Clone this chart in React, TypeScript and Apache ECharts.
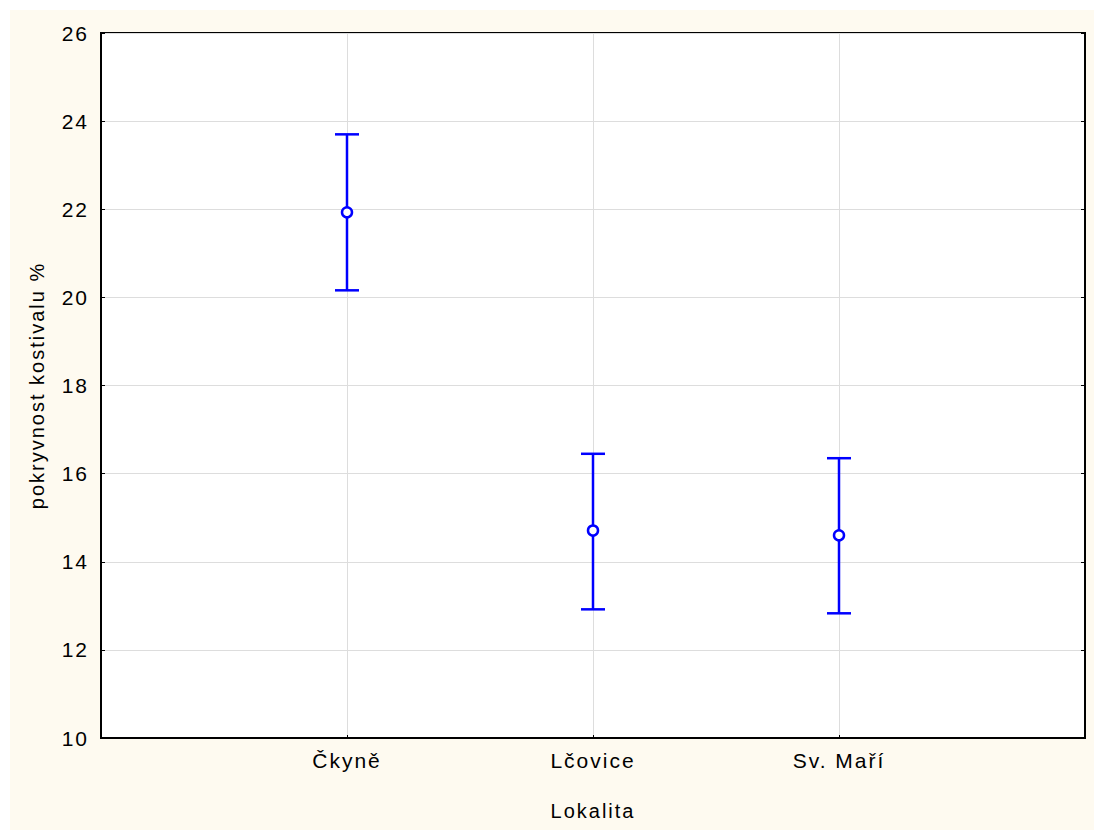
import React, { useEffect, useRef } from "react";
import * as echarts from "echarts";

const categories = ["Čkyně", "Lčovice", "Sv. Maří"];
const means = [21.93, 14.71, 14.6];
const lowers = [20.16, 12.92, 12.83];
const uppers = [23.7, 16.45, 16.35];
const yTicks = { min: 10, max: 26, interval: 2 };

const BLUE = "#0000FF";

export default function App() {
  const ref = useRef<HTMLDivElement>(null);
  useEffect(() => {
    if (!ref.current) return;
    const chart = echarts.init(ref.current, undefined, { renderer: "svg" });
    const font = "'Liberation Sans', Arial, sans-serif";
    const barData = categories.map((_, i) => [i + 1, lowers[i], uppers[i]]);
    const meanData = categories.map((_, i) => [i + 1, means[i]]);
    chart.setOption({
      animation: false,
      backgroundColor: "#FEFAF0",
      textStyle: { fontFamily: font },
      grid: {
        left: 91,
        top: 23,
        right: 9,
        bottom: 92,
        show: true,
        backgroundColor: "#fff",
        borderColor: "#000",
        borderWidth: 2,
      },
      xAxis: {
        type: "value",
        min: 0,
        max: 4,
        interval: 1,
        name: "Lokalita",
        nameLocation: "middle",
        nameGap: 63,
        nameTextStyle: { fontSize: 20, color: "#000", fontFamily: font },
        axisLine: { show: true, lineStyle: { color: "#000", width: 2 } },
        axisTick: { show: true, inside: true, length: 3, lineStyle: { color: "#000" } },
        axisLabel: {
          fontSize: 21,
          color: "#000",
          margin: 12,
          fontFamily: font,
          formatter: (v: number) => (v >= 1 && v <= categories.length && Number.isInteger(v) ? categories[v - 1] : ""),
        },
        splitLine: { show: true, lineStyle: { color: "#dddddd", width: 1 } },
      },
      yAxis: [
        {
          type: "value",
          min: yTicks.min,
          max: yTicks.max,
          interval: yTicks.interval,
          name: "pokryvnost kostivalu %",
          nameLocation: "middle",
          nameGap: 54,
          nameTextStyle: { fontSize: 20, color: "#000", fontFamily: font },
          axisLine: { show: true, lineStyle: { color: "#000", width: 2 } },
          axisTick: { show: true, inside: true, length: 4, lineStyle: { color: "#000" } },
          axisLabel: { fontSize: 21, color: "#000", margin: 12, fontFamily: font },
          splitLine: { show: true, lineStyle: { color: "#dddddd", width: 1 } },
        },
        {
          type: "value",
          position: "right",
          min: yTicks.min,
          max: yTicks.max,
          interval: yTicks.interval,
          axisLine: { show: true, lineStyle: { color: "#000", width: 2 } },
          axisTick: { show: true, inside: true, length: 4, lineStyle: { color: "#000" } },
          axisLabel: { show: false },
          splitLine: { show: false },
        },
      ],
      series: [
        {
          type: "custom",
          data: barData,
          renderItem: (params: any, api: any) => {
            const x = api.value(0);
            const lo = api.coord([x, api.value(1)]);
            const hi = api.coord([x, api.value(2)]);
            const hw = 12;
            const style = { stroke: BLUE, lineWidth: 2.5, fill: "none" };
            return {
              type: "group",
              children: [
                { type: "line", shape: { x1: lo[0], y1: lo[1], x2: hi[0], y2: hi[1] }, style },
                { type: "line", shape: { x1: lo[0] - hw, y1: lo[1], x2: lo[0] + hw, y2: lo[1] }, style },
                { type: "line", shape: { x1: hi[0] - hw, y1: hi[1], x2: hi[0] + hw, y2: hi[1] }, style },
              ],
            };
          },
          z: 3,
        },
        {
          type: "scatter",
          data: meanData,
          symbol: "circle",
          symbolSize: 10,
          itemStyle: { color: "#fff", borderColor: BLUE, borderWidth: 2.5, opacity: 1 },
          z: 4,
        },
      ],
    });
    return () => chart.dispose();
  }, []);
  return (
    <div
      ref={ref}
      style={{
        position: "fixed",
        left: 10,
        top: 10,
        width: 1084,
        height: 820,
        letterSpacing: "2px",
      }}
    />
  );
}
